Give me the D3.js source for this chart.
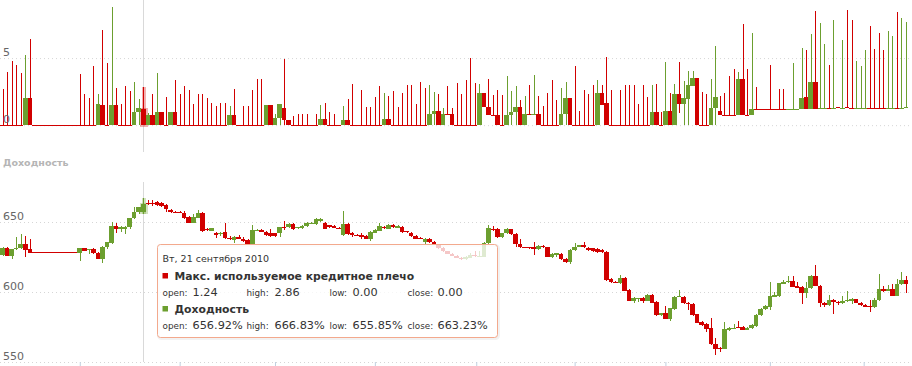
<!DOCTYPE html>
<html lang="ru">
<head>
<meta charset="utf-8">
<title>Кредитное плечо и доходность</title>
<script src="https://cdn.jsdelivr.net/npm/d3@7"></script>
<style>
  html, body { margin: 0; padding: 0; background: #fff; }
  svg { display: block; font-family: "DejaVu Sans", Verdana, sans-serif; }
</style>
</head>
<body>
<div id="chart"></div>
<script>
// ---- data ----
const seriesNames = ["Макс. используемое кредитное плечо", "Доходность"];
const firstDay = new Date(2010, 7, 9);   // first trading day shown
const N = 200;                           // trading days (weekdays)
const hoverIdx = 31;                     // 21 Sep 2010

const levTicks = [0, 5];
const retTicks = [550, 600, 650];
const monthStarts = ["2010-09-01","2010-10-01","2010-11-01","2010-12-01","2011-01-01",
                     "2011-02-01","2011-03-01","2011-04-01","2011-05-01"];

// Макс. используемое кредитное плечо
const levOpen = [
  0,0,0,0,0,0,2.0,0,0,0,  0,0,0,0,0,0,0,0,0,0,
  0,0,1.5,0,0,1.5,0,0,0,0,  0.97,1.24,0,0.75,0,0.97,0,0,0.97,0,
  0,0,0,0,0,0,0,0,0,0,  0,0.75,0,0,0,0,0,0,0,1.5,
  0,0.52,1.27,0.37,0,0,0,0,0,0,  0,0.45,0,0,0,0,0.37,0,0,0,
  0,0,0,0,0,0.45,0,0,0,0,  0,0,0,0,0,0.82,1.04,0,0.82,0.82,
  0,0,0,0,0,0,2.39,1.32,0.75,0.75,  0,0,0.75,0.97,1.34,0,0.82,0.82,0.82,0,
  0,0,0,0,0.82,2.01,0,0,0,0,  0,0,2.39,1.64,0,0,0,0,0,0,
  0,0,0,0,0.97,0,0,1.04,0,2.31,  1.57,1.97,2.91,3.51,0,0,0,1.27,1.04,0.75,
  0.75,0.75,0.75,3.43,0.75,0.75,1.19,1.19,1.19,1.19,  1.19,1.19,1.19,1.19,1.19,1.19,1.19,2.09,1.19,3.2,
  1.27,1.27,1.28,1.27,1.33,1.27,1.33,1.28,1.27,1.27,  1.27,1.28,1.28,1.28,1.28,1.27,1.27,1.28,1.27,1.27
];
const levHigh = [
  2.69,3.98,4.78,4.48,3.9,5.2,6.4,0,0,0,  0,0,0,0,0,0,0,3.8,2.3,2.0,
  4.4,2.3,7.1,4.65,8.83,2.76,1.57,2.9,2.56,3.2,  1.94,2.86,0.92,2.3,3.9,0.97,2.1,0.97,3.36,2.36,
  2.9,2.6,1.57,2.3,2.36,2.0,1.64,1.42,1.62,1.62,  1.42,2.66,0,1.42,1.42,2.6,3.43,3.43,1.5,1.5,
  0.82,1.57,4.93,0.37,0.67,0.82,0.82,0.82,0,0.82,  1.5,1.62,0.97,0.82,0,1.42,1.94,3.06,0,2.6,
  1.34,1.34,2.09,2.9,2.39,2.16,2.54,1.34,2.39,2.99,  2.99,1.57,3.2,2.76,2.99,2.46,2.31,1.27,2.9,1.27,
  3.13,2.31,3.36,5.0,3.13,3.06,2.39,3.43,2.24,2.6,  2.24,3.66,2.54,2.9,1.87,2.16,2.99,3.73,2.16,1.42,
  2.39,3.36,1.87,2.76,3.2,2.01,4.4,1.04,2.6,2.31,  2.99,3.36,2.99,5.07,2.6,0,2.6,2.99,2.99,2.99,
  1.57,2.99,2.09,2.99,3.06,0.97,4.7,2.39,3.06,4.7,  3.28,4.03,4.03,3.51,2.46,2.31,3.43,5.9,2.16,2.39,
  3.66,4.18,3.96,7.54,4.18,6.87,2.84,1.19,1.19,4.48,  1.19,2.69,2.69,1.2,4.63,1.2,5.75,5.6,6.79,8.5,
  7.6,6.04,4.48,7.84,1.35,6.34,8.58,7.84,4.78,4.4,  5.6,7.39,5.67,6.87,5.6,7.0,6.64,8.43,7.99,7.69
];
const levLow = [
  0,0,0,0,0,0,0,0,0,0,  0,0,0,0,0,0,0,0,0,0,
  0,0,0,0,0,0,0,0,0,0,  0,0,0,0,0,0,0,0,0,0,
  0,0,0,0,0,0,0,0,0,0,  0,0,0,0,0,0,0,0,0,0,
  0,0,0,0,0,0,0,0,0,0,  0,0,0,0,0,0,0,0,0,0,
  0,0,0,0,0,0,0,0,0,0,  0,0,0,0,0,0,0,0,0.82,0,
  0,0,0,0,0,0,1.32,0.75,0.75,0,  0,0,0,0,0,0,0.82,0.82,0,0,
  0,0,0,0,0,0,0,0,0,0,  0,0,1.52,0,0,0,0,0,0,0,
  0,0,0,0,0,0,0,0,0,0.9,  0,0,2.91,0,0,0,0,0,0.75,0.75,
  0.75,0.75,0.75,0.75,0.75,0.75,1.19,1.19,1.19,1.19,  1.19,1.19,1.19,1.19,1.19,1.19,1.19,1.19,1.19,1.19,
  1.27,1.27,1.27,1.27,1.27,1.27,1.27,1.27,1.27,1.27,  1.27,1.27,1.27,1.27,1.27,1.27,1.27,1.27,1.27,1.27
];
const levClose = [
  0,0,0,0,0,2.0,0,0,0,0,  0,0,0,0,0,0,0,0,0,0,
  0,1.57,0,0,1.5,0,0,0,0,0.97,  1.27,0,0.75,0,0.97,0,0,0.97,0,0,
  0,0,0,0,0,0,0,0,0,0,  0.75,0,0,0,0,0,0,0,1.5,0,
  0.52,1.57,0.37,0,0,0,0,0,0,0,  0.45,0,0,0,0,0.37,0,0,0,0,
  0,0,0,0,0.45,0,0,0,0,0,  0,0,0,0,0.82,1.04,0,0.82,0.82,0,
  0,0,0,0,0,2.39,1.32,0.75,0.75,0,  0,0.75,0.97,1.34,0,0.82,0.82,0.83,0,0,
  0,0,0,0.82,2.01,0,0,0,0,0,  0,2.39,1.52,0,0,0,0,0,0,0,
  0,0,0,0.97,0,0,1.04,0,2.31,1.57,  2.01,2.99,3.51,0,0,0,1.27,2.09,0.75,0.75,
  0.75,0.75,3.43,0.75,0.75,1.19,1.19,1.19,1.19,1.19,  1.19,1.19,1.19,1.2,1.2,1.2,2.01,1.19,3.2,1.19,
  1.28,1.28,1.27,1.28,1.27,1.28,1.27,1.27,1.28,1.28,  1.28,1.27,1.27,1.27,1.27,1.28,1.28,1.27,1.28,1.37
];

// Доходность, %
const retOpen = [
  626.4,631.7,625.7,630.5,631.7,634.0,630.5,628.3,628.3,628.3,  628.3,628.3,628.3,628.3,628.3,628.3,628.3,628.1,631.2,630.3,
  630.5,628.0,623.8,632.4,634.8,647.1,645.0,645.0,646.7,652.6,  656.9,656.92,663.3,663.3,664.0,663.3,662.1,658.6,657.4,657.4,
  656.2,653.3,649.5,653.1,656.7,645.2,643.6,642.4,642.2,643.1,  638.8,637.1,639.0,638.1,637.1,634.3,644.3,644.5,643.1,642.4,
  641.9,641.9,646.2,646.2,648.6,646.0,645.8,647.1,649.3,648.6,  650.8,649.5,647.6,647.1,646.0,640.5,648.6,641.9,640.5,640.5,
  640.0,638.1,642.4,643.8,646.7,645.2,647.6,646.0,646.7,643.3,  642.4,640.0,638.3,635.7,638.1,636.0,634.0,631.2,629.0,627.4,
  626.0,624.5,623.6,624.5,626.2,625.5,625.2,634.8,645.2,644.8,  639.0,641.9,644.8,641.4,634.0,631.9,631.9,631.9,630.7,633.1,
  631.9,625.2,626.7,627.1,623.8,621.4,630.0,632.4,633.3,631.7,  631.2,630.5,630.0,628.8,609.3,607.1,606.4,610.2,601.4,593.8,
  595.5,596.0,593.8,597.9,592.9,583.3,584.8,581.0,587.6,596.7,  596.7,592.4,591.4,584.0,578.6,577.1,574.0,562.6,560.2,559.5,
  572.9,574.5,575.2,575.0,573.0,574.3,575.7,583.3,587.6,589.5,  596.7,597.1,606.0,607.1,607.9,604.5,603.8,599.0,602.6,611.4,
  604.5,592.4,590.5,594.3,593.0,591.9,593.6,593.6,594.8,592.4,  591.0,590.2,589.3,594.3,602.4,600.9,602.4,597.4,605.5,608.6
];
const retHigh = [
  632.4,632.4,631.0,639.0,641.2,640.0,637.6,628.3,628.3,628.3,  628.3,628.3,628.3,628.3,628.3,628.3,628.3,631.7,631.7,630.7,
  631.2,628.3,632.9,636.0,650.0,649.5,647.1,647.1,653.1,660.5,  660.7,666.83,665.7,665.7,664.8,664.5,662.8,659.3,657.9,658.1,
  657.9,654.0,655.7,658.6,657.1,645.7,646.0,643.1,643.1,649.0,  640.0,640.0,640.7,639.0,637.6,647.6,645.0,645.2,643.6,645.2,
  642.4,646.7,650.7,649.0,649.5,646.7,647.6,649.8,650.2,652.6,  652.6,650.0,648.1,647.6,646.4,658.1,649.3,642.9,641.2,642.4,
  640.5,643.6,645.0,649.0,647.4,648.6,648.3,647.6,647.4,643.8,  642.9,640.7,639.0,638.6,638.8,636.7,634.5,631.9,629.5,628.1,
  626.7,625.2,625.7,627.6,629.3,629.0,635.5,647.9,647.4,645.5,  642.4,645.5,645.2,641.9,638.1,632.4,632.5,636.0,633.6,633.6,
  632.4,627.6,628.1,627.6,624.3,630.5,635.0,633.8,635.5,632.4,  631.7,631.2,630.5,629.3,609.8,607.6,611.9,610.7,601.9,596.7,
  596.0,596.4,598.3,598.3,593.3,585.2,589.8,588.8,597.1,601.4,  597.1,592.9,591.9,584.5,579.0,577.6,581.2,567.1,560.7,578.6,
  575.0,577.1,579.5,575.5,575.0,576.9,584.0,588.8,590.7,607.4,  600.0,606.7,608.8,611.4,611.4,607.4,604.3,607.4,612.1,619.3,
  605.0,592.9,597.9,594.8,593.6,597.4,600.7,595.5,595.2,592.9,  591.4,594.3,596.0,612.9,604.5,604.8,605.5,609.5,614.5,611.4
];
const retLow = [
  625.7,625.7,623.8,630.0,630.5,625.2,627.6,628.3,628.3,628.3,  628.3,628.3,628.3,628.3,628.3,628.3,628.3,622.4,629.3,627.1,
  627.4,623.8,621.0,631.0,634.3,641.9,642.9,641.4,645.0,652.1,  655.5,655.85,661.9,661.2,661.4,660.7,657.4,656.4,656.2,656.4,
  652.1,649.3,649.0,652.6,643.1,643.6,643.3,638.8,639.8,638.1,  637.1,635.2,637.9,635.5,633.6,633.8,643.3,642.6,640.2,639.5,
  639.5,639.0,644.3,645.7,644.3,645.2,645.2,646.4,648.8,648.1,  650.2,644.8,645.7,645.7,645.5,640.0,640.9,639.0,639.8,637.6,
  637.6,636.7,641.9,643.3,645.0,644.8,645.7,645.5,642.1,642.1,  639.5,637.6,637.6,634.3,635.2,633.6,630.7,628.6,626.9,625.5,
  624.0,623.1,623.1,624.0,625.0,625.0,624.8,634.0,643.8,638.6,  638.6,641.4,640.9,632.1,631.2,631.4,631.0,626.4,630.2,631.4,
  624.8,624.5,624.8,622.9,620.5,619.7,629.5,631.9,631.7,629.5,  628.8,627.9,627.9,607.6,606.4,606.7,605.7,600.5,593.3,592.4,
  593.1,592.4,593.3,591.9,582.9,582.6,580.5,579.5,587.1,596.2,  591.4,587.1,583.1,577.6,575.7,571.4,562.1,554.8,557.4,559.0,
  572.4,574.0,574.0,572.6,572.6,573.8,575.2,582.9,587.1,586.9,  596.2,596.7,605.5,606.7,603.3,602.6,591.2,595.7,602.1,604.0,
  589.5,589.5,590.0,584.0,590.7,591.4,593.1,591.7,591.9,590.0,  589.0,586.0,588.8,593.8,599.8,600.5,597.1,596.9,605.0,599.5
];
const retClose = [
  631.7,625.7,630.5,631.7,634.0,630.0,628.1,628.3,628.3,628.3,  628.3,628.3,628.3,628.3,628.3,628.3,628.3,631.2,629.5,630.5,
  627.6,623.8,632.4,635.7,647.1,645.0,646.2,646.7,653.1,656.9,  660.5,663.23,663.0,663.0,662.1,661.4,659.0,656.9,657.1,657.0,
  652.6,649.5,653.3,656.7,643.6,645.0,645.5,640.7,642.4,638.3,  638.6,639.0,638.2,636.2,634.3,644.3,644.5,643.1,640.7,640.0,
  640.2,646.2,645.9,648.6,644.8,646.2,647.1,649.5,649.5,651.9,  652.0,645.2,646.2,646.0,646.0,648.6,641.4,640.5,640.5,639.0,
  638.1,643.1,644.3,647.1,645.5,647.9,646.2,647.1,642.6,642.6,  640.0,638.1,638.1,638.1,635.7,634.0,631.2,629.0,627.4,626.0,
  624.5,623.6,625.0,626.2,625.5,626.0,634.8,645.5,644.8,639.0,  641.9,644.8,641.4,634.0,631.9,631.7,631.7,630.5,633.1,631.9,
  625.2,627.1,627.6,623.3,621.4,630.0,632.4,633.3,632.1,630.0,  629.3,628.3,628.3,608.6,606.9,606.9,610.2,600.9,593.8,596.0,
  595.7,593.8,597.9,592.4,583.3,584.8,581.0,588.3,596.7,597.4,  591.9,591.4,583.6,578.1,576.4,573.6,562.6,559.5,559.5,573.3,
  574.5,574.6,574.3,573.0,574.5,576.4,583.6,587.6,590.2,597.1,  598.1,606.2,607.1,607.9,603.8,603.1,599.0,602.6,611.4,604.5,
  591.9,590.5,594.3,592.9,591.9,593.6,594.3,595.0,592.4,590.5,  589.5,589.3,594.3,602.1,600.7,602.4,597.4,605.7,608.6,605.7
];

// ---- chart ----
const W = 912, H = 366;
const RED = "#d10000", GREEN = "#6c9f2f";

// trading days: weekdays starting from firstDay
const dates = [];
for (let d = new Date(firstDay); dates.length < N; d.setDate(d.getDate() + 1)) {
  if (d.getDay() !== 0 && d.getDay() !== 6) dates.push(new Date(d));
}

const svg = d3.select("#chart").append("svg")
  .attr("width", W).attr("height", H)
  .attr("viewBox", [0, 0, W, H]);

const x = d3.scaleLinear().domain([-0.5, N - 0.5]).range([0.3, 908.3]);
const yLev = d3.scaleLinear().domain([-2, 9.33]).range([152, 0]);
const yRet = d3.scaleLinear().domain([550, 678.6]).range([362, 182]);

// gridlines
function grid(scale, ticks) {
  const g = svg.append("g")
    .call(d3.axisLeft(scale).tickValues(ticks).tickSize(-W).tickFormat(""));
  g.select(".domain").remove();
  g.selectAll(".tick line")
    .attr("stroke", "#d6d6d6")
    .attr("stroke-dasharray", "1,3");
}
grid(yLev, levTicks);
grid(yRet, retTicks);

// crosshair on hovered point
const cx = Math.round(x(hoverIdx)) + 0.5;
svg.append("g").attr("stroke", "#d9d9d9").attr("stroke-width", 1)
  .selectAll("line").data([yLev.range(), yRet.range()]).join("line")
  .attr("x1", cx).attr("x2", cx)
  .attr("y1", d => d[1]).attr("y2", d => d[0] + (d === yRet.range() ? 4 : 0));

// candles
function candles(o, h, l, c, y) {
  const g = svg.append("g").attr("shape-rendering", "crispEdges");
  const idx = d3.range(o.length);
  const col = i => c[i] > o[i] ? GREEN : RED;
  const bx0 = i => Math.round(x(i - 0.5));
  const bx1 = i => Math.round(x(i + 0.5));
  const top = i => Math.round(y(Math.max(o[i], c[i])));
  const bot = i => Math.round(y(Math.min(o[i], c[i])));

  // hover halo
  const hi = hoverIdx;
  const halo = g.append("g").attr("stroke", col(hi)).attr("stroke-opacity", 0.3).attr("fill", "none");
  halo.append("line")
    .attr("x1", Math.round(x(hi)) + 0.5).attr("x2", Math.round(x(hi)) + 0.5)
    .attr("y1", y(h[hi])).attr("y2", y(l[hi])).attr("stroke-width", 4);
  halo.append("rect")
    .attr("x", bx0(hi) - 0.5).attr("y", top(hi) - 0.5)
    .attr("width", bx1(hi) - bx0(hi) + 1).attr("height", Math.max(1, bot(hi) - top(hi)) + 1)
    .attr("stroke-width", 2);

  g.selectAll("line.wick").data(idx.filter(i => h[i] > l[i])).join("line")
    .attr("class", "wick")
    .attr("x1", i => Math.round(x(i)) + 0.5).attr("x2", i => Math.round(x(i)) + 0.5)
    .attr("y1", i => y(h[i])).attr("y2", i => y(l[i]))
    .attr("stroke", col);

  g.selectAll("rect.body").data(idx).join("rect")
    .attr("class", "body")
    .attr("x", bx0)
    .attr("width", i => bx1(i) - bx0(i))
    .attr("y", top)
    .attr("height", i => Math.max(1, bot(i) - top(i)))
    .attr("fill", col);
}
candles(levOpen, levHigh, levLow, levClose, yLev);
candles(retOpen, retHigh, retLow, retClose, yRet);

// y-axis labels (above gridlines, left aligned)
function labels(scale, ticks) {
  const g = svg.append("g")
    .call(d3.axisLeft(scale).tickValues(ticks).tickSize(0).tickFormat(d3.format("d")));
  g.attr("font-family", null).attr("font-size", null);
  g.select(".domain").remove();
  g.selectAll(".tick text")
    .attr("x", 3).attr("y", -2.5).attr("dy", null)
    .attr("text-anchor", "start")
    .attr("fill", "#666").style("font-size", "11px");
}
labels(yLev, levTicks);
labels(yRet, retTicks);

// pane title
svg.append("text")
  .attr("x", 3).attr("y", 166)
  .attr("fill", "#b5b5b5").attr("font-weight", "bold").style("font-size", "9.5px")
  .text(seriesNames[1]);

// month ticks on the bottom time axis (ordinal position between trading days)
const pos = dateStr => {
  const t = new Date(dateStr + "T00:00:00");
  const i = d3.bisectRight(dates.map(Number), +t) - 1;
  if (+dates[i] === +t || i + 1 >= N) return i;
  return i + (t - dates[i]) / (dates[i + 1] - dates[i]);
};
const xAxis = svg.append("g")
  .attr("transform", `translate(0,${yRet.range()[0]})`)
  .call(d3.axisBottom(x).tickValues(monthStarts.map(pos)).tickSize(10).tickFormat(""));
xAxis.select(".domain").remove();
xAxis.selectAll(".tick line").attr("stroke", "#c0d0e0");

// tooltip
const ru = d3.timeFormatLocale({
  dateTime: "%A, %e %B %Y г. %X", date: "%d.%m.%Y", time: "%H:%M:%S", periods: ["AM", "PM"],
  days: ["воскресенье","понедельник","вторник","среда","четверг","пятница","суббота"],
  shortDays: ["Вс","Пн","Вт","Ср","Чт","Пт","Сб"],
  months: ["января","февраля","марта","апреля","мая","июня","июля","августа","сентября","октября","ноября","декабря"],
  shortMonths: ["янв","фев","мар","апр","май","июн","июл","авг","сен","окт","ноя","дек"]
});
const fmtDate = ru.format("%a, %-d %B %Y");

const tx = Math.round(x(hoverIdx)) + 14.5, ty = 244.5;
const tip = svg.append("g").attr("transform", `translate(${tx},${ty})`);
tip.append("rect").attr("x", 1).attr("y", 1).attr("width", 340).attr("height", 93).attr("rx", 3)
  .attr("fill", "none").attr("stroke", "rgba(0,0,0,0.05)").attr("stroke-width", 3);
tip.append("rect").attr("width", 340).attr("height", 93).attr("rx", 3)
  .attr("fill", "rgba(255,255,255,0.78)").attr("stroke", "#f3a98d");

tip.append("text").attr("x", 5).attr("y", 17).attr("fill", "#333").style("font-size", "9.5px")
  .text(fmtDate(dates[hoverIdx]));

const rows = [
  { name: seriesNames[0], color: RED,   vals: [levOpen, levHigh, levLow, levClose], suffix: "" },
  { name: seriesNames[1], color: GREEN, vals: [retOpen, retHigh, retLow, retClose], suffix: "%" }
];
const keys = ["open:", "high:", "low:", "close:"];
const labelX = [5, 89, 172, 250];
const valueX = [35, 117, 195, 280];

rows.forEach((r, k) => {
  const y0 = 35 + k * 33;
  tip.append("rect").attr("x", 5).attr("y", y0 - 6.5).attr("width", 5.5).attr("height", 5.5).attr("fill", r.color);
  tip.append("text").attr("x", 17).attr("y", y0).attr("fill", "#333")
    .attr("font-weight", "bold").style("font-size", "10.8px").text(r.name);
  keys.forEach((key, j) => {
    tip.append("text").attr("x", labelX[j]).attr("y", y0 + 16.5).attr("fill", "#333")
      .style("font-size", "8.8px").text(key);
    tip.append("text").attr("x", valueX[j]).attr("y", y0 + 16.5).attr("fill", "#333")
      .style("font-size", "11.3px").text(r.vals[j][hoverIdx].toFixed(2) + r.suffix);
  });
});
</script>
</body>
</html>
